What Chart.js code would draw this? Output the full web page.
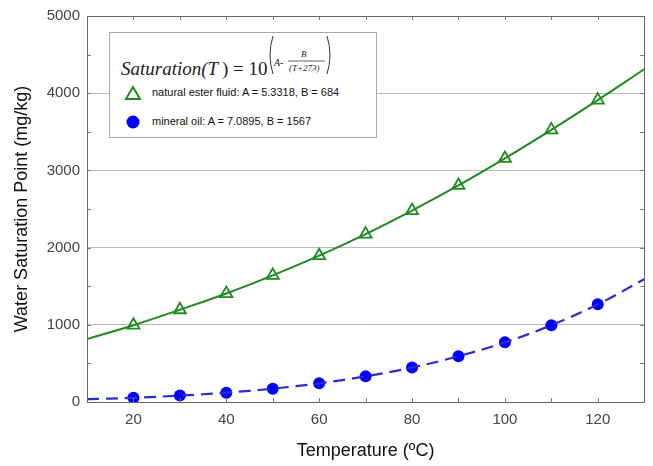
<!DOCTYPE html>
<html>
<head>
<meta charset="utf-8">
<script src="https://cdn.jsdelivr.net/npm/chart.js@4"></script>
<style>
  body { margin: 0; background: #fff; }
  #wrap { position: relative; width: 653px; height: 466px; }
  #legend {
    position: absolute; left: 109px; top: 32px; width: 268px; height: 106px;
    border: 1px solid #aaa; background: #fff; font-family: "Liberation Sans", Arial, sans-serif;
    box-sizing: border-box;
  }
  #formula { position: absolute; left: 11px; top: 25px; font-family: "Liberation Serif", "Times New Roman", serif; font-size: 19px; font-style: italic; color: #222; white-space: nowrap; }
  #formula .up { font-style: normal; }
  #expoente { position: absolute; left: 157px; top: 0px; overflow: visible; }
  .row { position: absolute; left: 14px; font-size: 11px; color: #111; white-space: nowrap; }
  .row svg { vertical-align: middle; margin-right: 10px; }
</style>
</head>
<body>
<div id="wrap">
  <canvas id="grafico" width="653" height="466"></canvas>
  <div id="legend">
    <div id="formula">Saturation(T<span class="up">&thinsp;) = 10</span></div>
    <svg id="expoente" width="70" height="46">
      <path d="M6 3 Q0 22 6 41" fill="none" stroke="#333" stroke-width="1"/>
      <path d="M60 3 Q66 22 60 41" fill="none" stroke="#333" stroke-width="1"/>
      <text x="7" y="33" font-size="10" font-style="italic" font-family="Liberation Serif" fill="#222">A-</text>
      <text x="34" y="24" font-size="9" font-style="italic" font-family="Liberation Serif" fill="#222">B</text>
      <line x1="21" y1="28" x2="58" y2="28" stroke="#333" stroke-width="0.8"/>
      <text x="22" y="38" font-size="9" font-style="italic" font-family="Liberation Serif" fill="#222">(T+273)</text>
    </svg>
    <div class="row" style="top:52px"><svg width="18" height="16"><polygon points="9,2 16,14 2,14" fill="none" stroke="#1f8a1f" stroke-width="2"/></svg>natural ester fluid: A = 5.3318, B = 684</div>
    <div class="row" style="top:81px"><svg width="18" height="16"><circle cx="9" cy="8" r="6.5" fill="#0000ff"/></svg>mineral oil: A = 7.0895, B = 1567</div>
  </div>
</div>
<script>
// curva continua (10 a 130 °C)
var temperaturas_curva = [10, 20, 30, 40, 50, 60, 70, 80, 90, 100, 110, 120, 130];
var ester_curva = [815, 995, 1195, 1405, 1640, 1895, 2175, 2480, 2805, 3155, 3525, 3910, 4310];
var mineral_curva = [36, 55, 83, 121, 173, 242, 332, 447, 593, 773, 995, 1265, 1590];

// pontos medidos
var temperaturas = [20, 30, 40, 50, 60, 70, 80, 90, 100, 110, 120];
var ester_pontos = [995, 1195, 1405, 1640, 1895, 2175, 2480, 2805, 3155, 3525, 3910];
var mineral_pontos = [55, 83, 121, 173, 242, 332, 447, 593, 773, 995, 1265];

var x_ticks = [20, 40, 60, 80, 100, 120];
var y_ticks = [0, 1000, 2000, 3000, 4000, 5000];

function xy(xs, ys) {
    return xs.map(function (x, i) { return { x: x, y: ys[i] }; });
}

var verde = '#1f8a1f';
var azul = '#0000ff';
var azul_linha = '#2b2bd0';

// moldura e marcas internas
var moldura = {
    id: 'moldura',
    afterDatasetsDraw: function (chart) {
        var c = chart.ctx, a = chart.chartArea;
        var sx = chart.scales.x, sy = chart.scales.y;
        c.save();
        c.strokeStyle = '#777';
        c.lineWidth = 1;
        for (var t = 20; t <= 120; t += 10) {
            var px = Math.round(sx.getPixelForValue(t)) + 0.5;
            c.beginPath();
            c.moveTo(px, a.bottom); c.lineTo(px, a.bottom - 4);
            c.moveTo(px, a.top); c.lineTo(px, a.top + 4);
            c.stroke();
        }
        for (var v = 500; v < 5000; v += 500) {
            var py = Math.round(sy.getPixelForValue(v)) + 0.5;
            c.beginPath();
            c.moveTo(a.left, py); c.lineTo(a.left + 4, py);
            c.moveTo(a.right, py); c.lineTo(a.right - 4, py);
            c.stroke();
        }
        c.strokeStyle = '#666';
        c.strokeRect(Math.round(a.left) + 0.5, Math.round(a.top) + 0.5, Math.round(a.right - a.left), Math.round(a.bottom - a.top));
        c.restore();
    }
};

var ctx = document.getElementById('grafico');
var grafico = new Chart(ctx, {
    type: 'scatter',
    data: {
        datasets: [
            {
                label: 'mineral oil curve',
                data: xy(temperaturas_curva, mineral_curva),
                showLine: true,
                borderColor: azul_linha,
                borderWidth: 2.2,
                borderDash: [12, 7],
                pointRadius: 0,
                tension: 0.4
            },
            {
                label: 'natural ester curve',
                data: xy(temperaturas_curva, ester_curva),
                showLine: true,
                borderColor: verde,
                borderWidth: 2,
                pointRadius: 0,
                tension: 0.4
            },
            {
                label: 'natural ester fluid',
                data: xy(temperaturas, ester_pontos),
                showLine: false,
                pointStyle: 'triangle',
                pointRadius: 7,
                backgroundColor: 'rgba(255,255,255,0)',
                borderColor: verde,
                borderWidth: 1.8
            },
            {
                label: 'mineral oil',
                data: xy(temperaturas, mineral_pontos),
                showLine: false,
                pointStyle: 'circle',
                pointRadius: 6,
                backgroundColor: azul,
                borderColor: azul,
                borderWidth: 0
            }
        ]
    },
    options: {
        responsive: false,
        animation: false,
        layout: { padding: { top: 12, right: 5, left: 0, bottom: 0 } },
        plugins: {
            legend: { display: false },
            tooltip: { enabled: false }
        },
        scales: {
            x: {
                type: 'linear',
                min: 10,
                max: 130,
                afterBuildTicks: function (s) { s.ticks = x_ticks.map(function (v) { return { value: v }; }); },
                afterFit: function (s) { s.height = 64; },
                grid: { display: false, drawTicks: false },
                border: { display: false },
                ticks: { color: '#444', padding: 9, font: { family: 'Liberation Sans', size: 15 }, callback: function (v) { return String(v); } },
                title: {
                    display: true,
                    text: 'Temperature (ºC)',
                    color: '#111',
                    padding: { top: 6 },
                    font: { family: 'Liberation Sans', size: 18 }
                }
            },
            y: {
                min: 0,
                max: 5000,
                afterBuildTicks: function (s) { s.ticks = y_ticks.map(function (v) { return { value: v }; }); },
                afterFit: function (s) { s.width = 87; },
                grid: {
                    drawTicks: false,
                    color: function (c) { return (c.tick.value == 0 || c.tick.value == 5000) ? 'rgba(0,0,0,0)' : '#bbb'; },
                    lineWidth: 1
                },
                border: { display: false },
                ticks: { color: '#444', padding: 7, font: { family: 'Liberation Sans', size: 15 }, callback: function (v) { return String(v); } },
                title: {
                    display: true,
                    text: 'Water Saturation Point (mg/kg)',
                    color: '#111',
                    padding: { top: 11, bottom: 0 },
                    font: { family: 'Liberation Sans', size: 18 }
                }
            }
        }
    },
    plugins: [moldura]
});
</script>
</body>
</html>
